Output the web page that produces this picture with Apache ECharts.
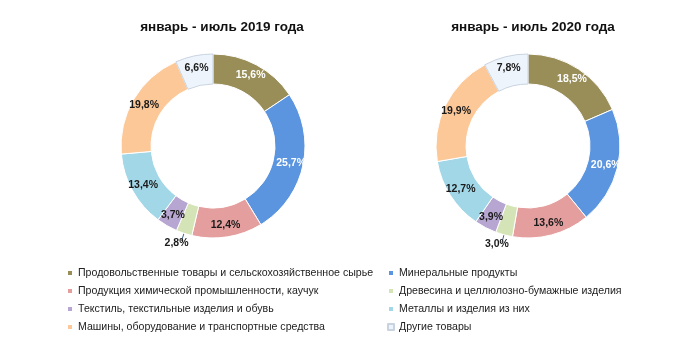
<!DOCTYPE html>
<html>
<head>
<meta charset="utf-8">
<script src="https://cdn.jsdelivr.net/npm/echarts@6/dist/echarts.min.js"></script>
<style>
  html, body { margin: 0; padding: 0; background: #fff; }
  #main { width: 700px; height: 354px; }
</style>
</head>
<body>
<div id="main"></div>
<script>
// категории в порядке легенды (по строкам)
const categories = [
  'Продовольственные товары и сельскохозяйственное сырье',
  'Минеральные продукты',
  'Продукция химической промышленности, каучук',
  'Древесина и целлюлозно-бумажные изделия',
  'Текстиль, текстильные изделия и обувь',
  'Металлы и изделия из них',
  'Машины, оборудование и транспортные средства',
  'Другие товары'
];
const values2019 = [15.6, 25.7, 12.4, 2.8, 3.7, 13.4, 19.8, 6.6];
const values2020 = [18.5, 20.6, 13.6, 3.0, 3.9, 12.7, 19.9, 7.8];
const titles = ['январь - июль 2019 года', 'январь - июль 2020 года'];
const colors = ['#998D58', '#5B95DF', '#E59E9E', '#D5E4B6', '#B8A6D2', '#A2D7E8', '#FCC898', '#EEF4FC'];

const font = '"Liberation Sans", Arial, sans-serif';

function makeData(vals) {
  return vals.map(function (v, i) {
    const d = { name: categories[i], value: v };
    if (i < 2) d.label = { color: '#fff' };
    if (i === 7) d.itemStyle = { borderColor: '#C9D3E0', borderWidth: 1 };
    if (i === 3) {
      d.label = { position: 'outside', color: '#1a1a1a' };
      d.labelLine = { show: true, showAbove: true, length: 8, length2: 0,
        lineStyle: { color: '#3d5f8f', width: 1 } };
    }
    return d;
  });
}

function pie(center, vals) {
  return {
    type: 'pie',
    center: center,
    radius: [62, 92],
    startAngle: 90,
    clockwise: true,
    avoidLabelOverlap: false,
    itemStyle: { borderColor: '#fff', borderWidth: 1 },
    label: {
      show: true,
      position: 'inside',
      fontFamily: font,
      fontSize: 10.5,
      fontWeight: 'bold',
      color: '#1a1a1a',
      formatter: function (p) { return p.value.toFixed(1).replace('.', ',') + '%'; }
    },
    labelLayout: function (p) {
      if (p.dataIndex === 3) return { dx: 12, dy: 2 };
    },
    labelLine: { show: false },
    emphasis: { disabled: true },
    data: makeData(vals)
  };
}

const legendStyle = {
  orient: 'vertical', top: 266, itemGap: 4, padding: 0,
  itemWidth: 6, itemHeight: 6, icon: 'rect',
  textStyle: { fontFamily: font, fontSize: 10.6, color: '#222', lineHeight: 14 }
};

const chart = echarts.init(document.getElementById('main'));
chart.setOption({
  animation: false,
  color: colors,
  title: [
    { text: titles[0], left: 217, top: 15, textAlign: 'center',
      textStyle: { fontFamily: font, fontSize: 13.5, fontWeight: 'bold', color: '#111' } },
    { text: titles[1], left: 528, top: 15, textAlign: 'center',
      textStyle: { fontFamily: font, fontSize: 13.5, fontWeight: 'bold', color: '#111' } }
  ],
  legend: [
    Object.assign({}, legendStyle, {
      left: 66,
      data: [categories[0], categories[2], categories[4], categories[6]]
    }),
    Object.assign({}, legendStyle, {
      left: 387,
      data: [categories[1], categories[3], categories[5], categories[7]]
    })
  ],
  series: [
    pie([213, 146], values2019),
    pie([528, 146], values2020)
  ]
});
</script>
</body>
</html>
